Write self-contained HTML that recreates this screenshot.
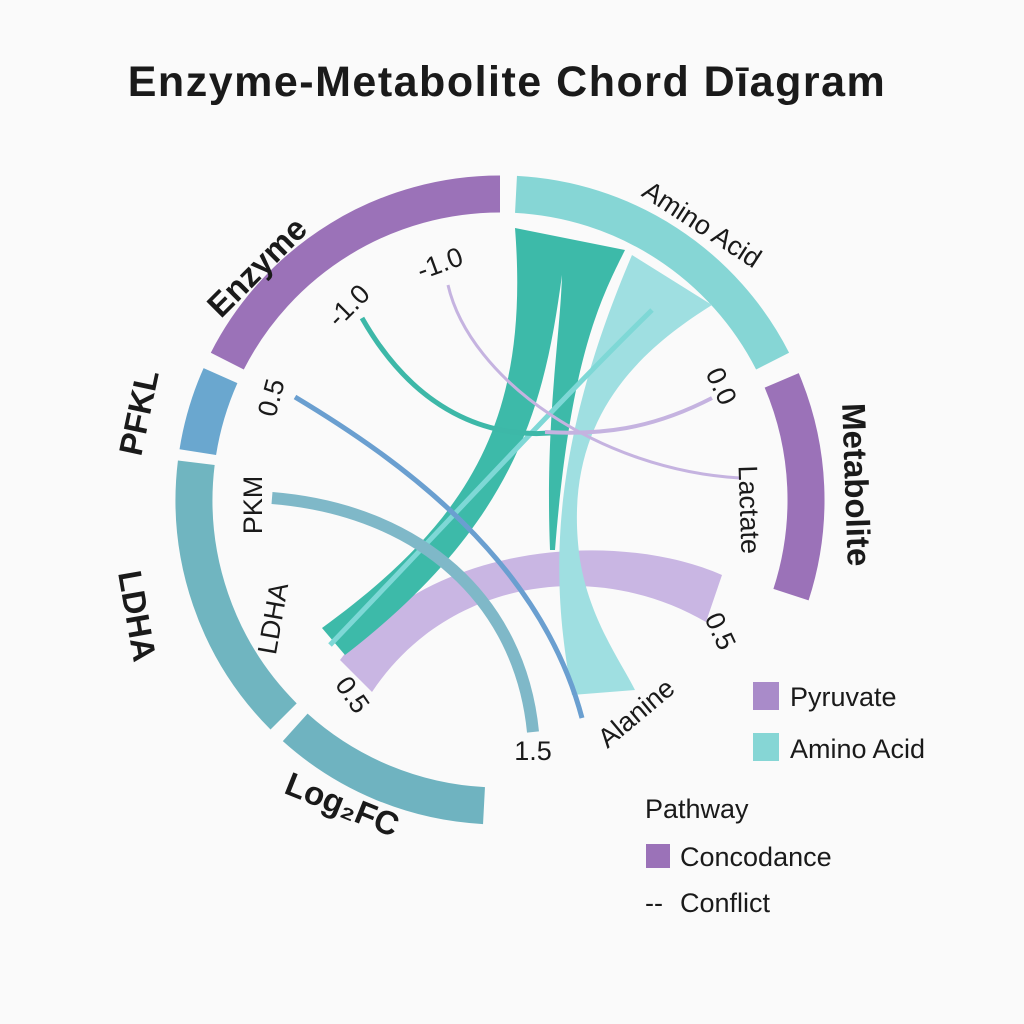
<!DOCTYPE html>
<html><head><meta charset="utf-8"><style>
body{margin:0;background:#fafafa;}
svg{display:block;font-family:"Liberation Sans",sans-serif;}
</style></head><body>
<svg width="1024" height="1024" viewBox="0 0 1024 1024">
<rect width="1024" height="1024" fill="#fafafa"/>
<text x="507" y="96" text-anchor="middle" font-size="43" font-weight="bold" letter-spacing="1.5" fill="#1a1a1a">Enzyme-Metabolite Chord Dīagram</text>
<g fill="none" stroke-width="37">
<path d="M227.3,361.1 A306,306 0 0 1 500,194" stroke="#9b72b8"/>
<path d="M197.8,452.1 A306,306 0 0 1 220.5,375.6" stroke="#6aa7cf"/>
<path d="M283.6,716.4 A306,306 0 0 1 196.3,462.7" stroke="#70b5c0"/>
<path d="M484,805.6 A306,306 0 0 1 295.2,727.4" stroke="#6fb3c0"/>
<path d="M516,194.4 A306,306 0 0 1 772.6,361.1" stroke="#86d6d5"/>
<path d="M781.7,380.4 A306,306 0 0 1 791,594.6" stroke="#9b72b8"/>
</g>
<path d="M722,575 L706,622 C600,560 450,575 372,692 L340,660 C430,540 620,530 722,575 Z" fill="#c9b6e3"/>
<path d="M515,228 L625,250 C600,300 570,360 555,550 L550,550 C545,420 560,340 562,275 C545,400 520,520 345,655 L322,628 C470,520 530,420 515,228 Z" fill="#3dbaa9"/>
<path d="M632,255 L712,305 C640,350 560,420 580,560 C590,620 620,660 635,690 L572,695 C555,600 540,470 632,255 Z" fill="#9fdfe1"/>
<path d="M652,310 C560,400 450,520 330,645" stroke="#7ed8d6" stroke-width="5" fill="none"/>
<path d="M362,318 C420,420 500,440 560,432" stroke="#3db8a8" stroke-width="5" fill="none"/>
<path d="M712,398 C650,430 600,435 545,432" stroke="#c5b3e0" stroke-width="4" fill="none"/>
<path d="M448,285 C470,380 600,470 740,478" stroke="#c5b3e0" stroke-width="3" fill="none"/>
<path d="M295,397 C400,460 540,560 582,718" stroke="#6a9fd0" stroke-width="5" fill="none"/>
<path d="M272,498 C420,510 520,600 533,732" stroke="#7fb8c8" stroke-width="12" fill="none"/>
<g font-size="33" font-weight="bold" fill="#1a1a1a">
<text transform="translate(265,275) rotate(-45)" text-anchor="middle">Enzyme</text>
<text transform="translate(150,415) rotate(-78)" text-anchor="middle">PFKL</text>
<text transform="translate(126,618) rotate(80)" text-anchor="middle">LDHA</text>
<text transform="translate(338,815) rotate(22)" text-anchor="middle">Log₂FC</text>
<text transform="translate(845,485) rotate(88)" text-anchor="middle">Metabolite</text>
</g>
<g font-size="27" fill="#1a1a1a">
<text transform="translate(697,232) rotate(33)" text-anchor="middle">Amino Acid</text>
<text transform="translate(355,312) rotate(-45)" text-anchor="middle">-1.0</text>
<text transform="translate(443,272) rotate(-20)" text-anchor="middle">-1.0</text>
<text transform="translate(280,400) rotate(-75)" text-anchor="middle">0.5</text>
<text transform="translate(262,505) rotate(-90)" text-anchor="middle">PKM</text>
<text transform="translate(282,620) rotate(-80)" text-anchor="middle">LDHA</text>
<text transform="translate(345,700) rotate(55)" text-anchor="middle">0.5</text>
<text x="533" y="760" text-anchor="middle">1.5</text>
<text transform="translate(642,720) rotate(-40)" text-anchor="middle">Alanine</text>
<text transform="translate(712,635) rotate(65)" text-anchor="middle">0.5</text>
<text transform="translate(740,510) rotate(88)" text-anchor="middle">Lactate</text>
<text transform="translate(713,390) rotate(65)" text-anchor="middle">0.0</text>
</g>
<g font-size="27" fill="#1a1a1a">
<rect x="753" y="682" width="26" height="28" fill="#a98bc9"/>
<text x="790" y="706">Pyruvate</text>
<rect x="753" y="733" width="26" height="28" fill="#86d6d5"/>
<text x="790" y="758">Amino Acid</text>
<text x="645" y="818">Pathway</text>
<rect x="646" y="844" width="24" height="24" fill="#9b72b8"/>
<text x="680" y="866">Concodance</text>
<text x="645" y="912">--</text>
<text x="680" y="912">Conflict</text>
</g>
</svg>
</body></html>
